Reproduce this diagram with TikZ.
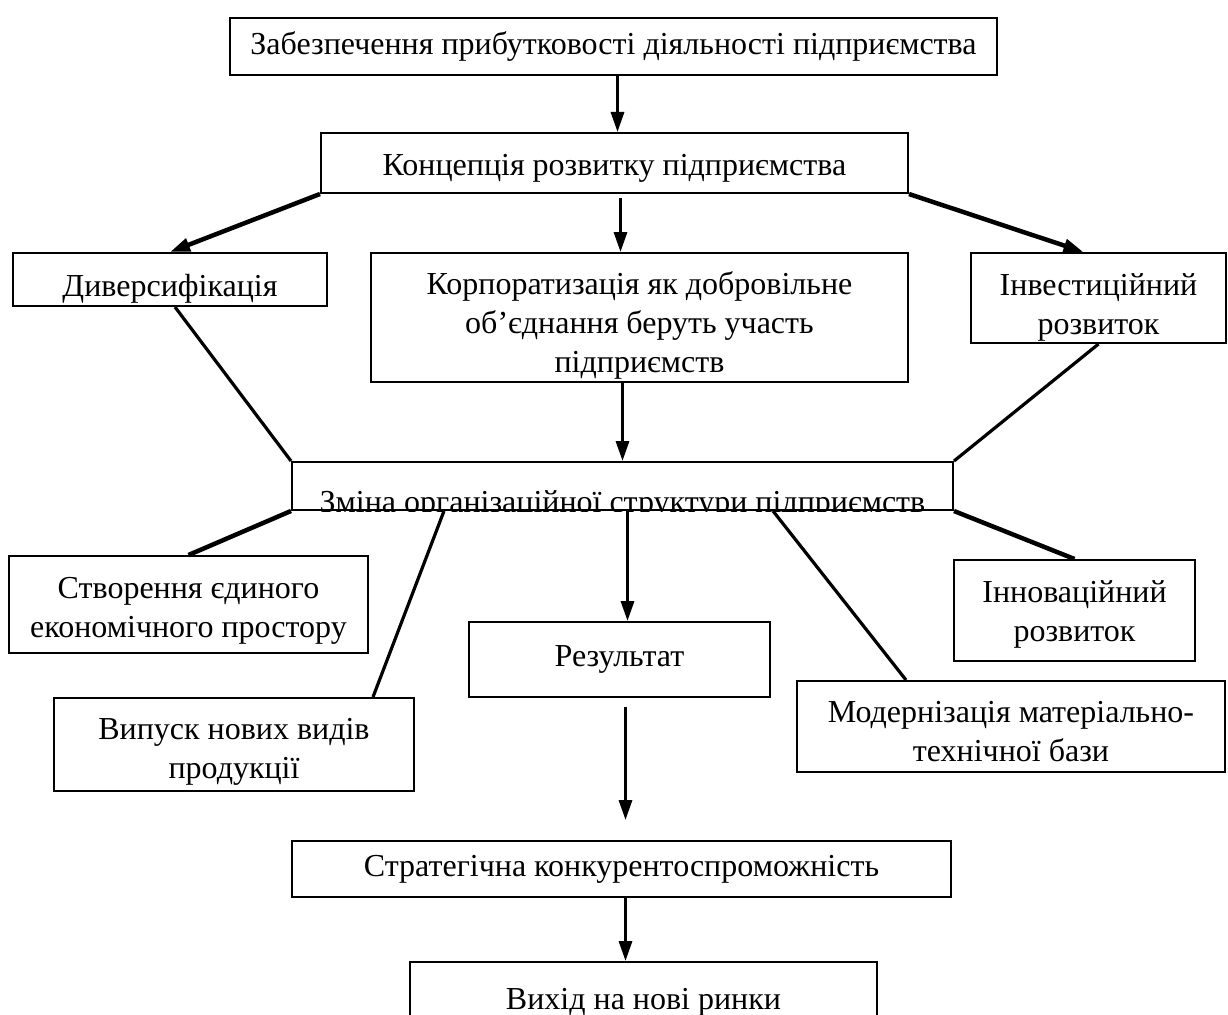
\documentclass[tikz,border=0pt]{standalone}
\usepackage{fontspec}
\setmainfont{Liberation Serif}
\usepackage{tikz}
\usetikzlibrary{arrows.meta}
\newcommand{\dropline}[1]{\rule{0pt}{#1}}
\tikzstyle{mybox} = [draw=black, fill=white, line width=2pt,
rectangle, inner sep=0pt, align=center, font=\fontsize{32}{39}\selectfont]
\tikzstyle{myarrow} = [line width=3.2pt, -{Triangle[length=20pt, width=13pt]}]
\tikzstyle{myline} = [line width=3.2pt]
\tikzstyle{thickline} = [line width=4.5pt]

\begin{document}
\begin{tikzpicture}[x=1pt, y=-1pt]
        \useasboundingbox (0,0) rectangle (1228,1014);
        \node [mybox, minimum width=767, minimum height=57] (goal) at (613.5,46.5)
            {Забезпечення прибутковості діяльності підприємства};
        \node [mybox, minimum width=587, minimum height=60] (concept) at (614.5,163)
            {\dropline{32pt}Концепція розвитку підприємства};
        \node [mybox, minimum width=314, minimum height=53] (divers) at (170,279.5)
            {\dropline{40pt}Диверсифікація};
        \node [mybox, minimum width=537, minimum height=129] (corp) at (639.5,317.5)
            {\dropline{39pt}Корпоратизація як добровільне\\об’єднання беруть участь\\підприємств};
        \node [mybox, minimum width=255, minimum height=90] (invest) at (1098.5,298)
            {\dropline{40pt}Інвестиційний\\розвиток};
        \node [mybox, minimum width=661, minimum height=48] (change) at (622.5,486) {};
        \begin{scope}
            \clip (change.north west) rectangle (change.south east);
            \node [font=\fontsize{32}{39}\selectfont, anchor=base] (changetext) at (622.5,512)
                {Зміна організаційної структури підприємств};
        \end{scope}
        \node [mybox, minimum width=359, minimum height=97] (space) at (188.5,604.5)
            {\dropline{34pt}Створення єдиного\\економічного простору};
        \node [mybox, minimum width=360, minimum height=93] (products) at (234,744.5)
            {\dropline{36pt}Випуск нових видів\\продукції};
        \node [mybox, minimum width=301, minimum height=75] (result) at (619.5,659.5)
            {Результат};
        \node [mybox, minimum width=241, minimum height=101] (innov) at (1074.5,610.5)
            {\dropline{30pt}Інноваційний\\розвиток};
        \node [mybox, minimum width=428, minimum height=91] (modern) at (1011,726.5)
            {\dropline{32pt}Модернізація матеріально-\\технічної бази};
        \node [mybox, minimum width=659, minimum height=56] (strategy) at (621.5,869)
            {Стратегічна конкурентоспроможність};
        \node [mybox, minimum width=467, minimum height=80, text depth=18pt] (markets) at (643.5,1002)
            {\dropline{33pt}Вихід на нові ринки};

        % upper part
        \draw[myarrow] ([shift={(4,0)}]goal.south) -- ([shift={(4,0)}]goal.south |- concept.north);
        \draw[thickline, -{Triangle[length=20pt, width=13pt]}] (concept.south west) -- (divers.north);
        \draw[myarrow] ([shift={(6,4)}]concept.south) -- ([shift={(6,0)}]concept.south |- corp.north);
        \draw[thickline, -{Triangle[length=20pt, width=13pt]}] (concept.south east) -- ([shift={(-15,0)}]invest.north);
        \draw[myline] ([shift={(5,0)}]divers.south) -- (change.north west);
        \draw[myarrow] (corp.south -| change.north) -- (change.north);
        \draw[myline] (invest.south) -- (change.north east);

        % lower part
        \draw[thickline] (change.south west) -- (space.north);
        \draw[myline] ([shift={(153,0)}]change.south west) -- ([shift={(-42,0)}]products.north east);
        \draw[myarrow] ([shift={(5,0)}]change.south) -- ([shift={(5,0)}]change.south |- result.north);
        \draw[myline] ([shift={(-181,0)}]change.south east) -- ([shift={(-105,0)}]modern.north);
        \draw[thickline] (change.south east) -- (innov.north);
        \draw[myarrow] ([shift={(6,9)}]result.south) -- ([shift={(6,-20)}]result.south |- strategy.north);
        \draw[myarrow] ([shift={(4,0)}]strategy.south) -- ([shift={(4,0)}]strategy.south |- markets.north);
    \end{tikzpicture}
\end{document}
